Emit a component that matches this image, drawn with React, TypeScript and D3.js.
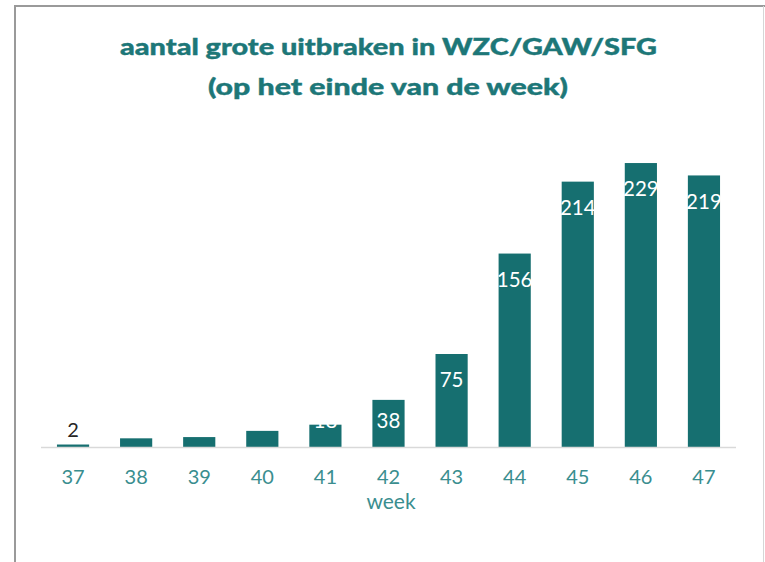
import React from "react";
import * as d3 from "d3";

const weeks = ["37", "38", "39", "40", "41", "42", "43", "44", "45", "46", "47"];
const outbreaks = [2, 7, 8, 13, 18, 38, 75, 156, 214, 229, 219];
const titleLines = ["aantal grote uitbraken in WZC/GAW/SFG", "(op het einde van de week)"];
const xAxisTitle = "week";

const W = 765;
const H = 562;
const BAR = "#166f70";
const TITLE = "#1d7778";
const TICK = "#3a8e8f";
const FONT = "Lato, 'Open Sans', sans-serif";

export default function App() {
  const x = d3.scaleBand<string>().domain(weeks).range([41.5, 735.5]).paddingInner(0.49).paddingOuter(0.245);
  const y = d3.scaleLinear().domain([0, 250]).range([447, 447 - 310]);
  const base = y(0);

  return (
    <svg width={W} height={H} style={{ position: "absolute", left: 0, top: 0, background: "#fff" }}>
      <rect x={0} y={0} width={W} height={H} fill="#fff" />
      {/* frame */}
      <line x1={15} y1={6} x2={W} y2={6} stroke="#9a9a9a" strokeWidth={2} />
      <line x1={15} y1={5} x2={15} y2={H} stroke="#9a9a9a" strokeWidth={2} />
      <line x1={763.5} y1={6} x2={763.5} y2={H} stroke="#d6d6d6" strokeWidth={1} />

      {/* title */}
      <text x={388.5} y={55} textAnchor="middle" fill={TITLE} fontFamily={FONT} fontWeight={900} fontSize={22.5}
        stroke={TITLE} strokeWidth={0.4}
        textLength={537} lengthAdjust="spacingAndGlyphs">{titleLines[0]}</text>
      <text x={388} y={95} textAnchor="middle" fill={TITLE} fontFamily={FONT} fontWeight={900} fontSize={22.5}
        stroke={TITLE} strokeWidth={0.4}
        textLength={360} lengthAdjust="spacingAndGlyphs">{titleLines[1]}</text>

      {/* bars */}
      {weeks.map((w, i) => {
        const v = outbreaks[i];
        const top = y(v);
        return (
          <rect key={w} x={x(w)} y={top} width={x.bandwidth()} height={base - top} fill={BAR} />
        );
      })}

      {/* axis line */}
      <line x1={41} x2={736} y1={base + 0.5} y2={base + 0.5} stroke="#d9d9d9" strokeWidth={1.5} />

      {/* value labels */}
      {weeks.map((w, i) => {
        const v = outbreaks[i];
        const top = y(v);
        const cx = (x(w) as number) + x.bandwidth() / 2;
        const h = base - top;
        if (h < 5) {
          return (
            <text key={"l" + w} x={cx} y={top - 15} dy="0.35em" textAnchor="middle" fill="#262626"
              fontFamily={FONT} fontSize={20}>{v}</text>
          );
        }
        const cy = Math.min(top + 26, base - 26);
        return (
          <text key={"l" + w} x={cx} y={cy} dy="0.35em" textAnchor="middle" fill="#ffffff"
            fontFamily={FONT} fontSize={20.5}>{v}</text>
        );
      })}

      {/* tick labels */}
      {weeks.map((w) => (
        <text key={"t" + w} x={(x(w) as number) + x.bandwidth() / 2} y={484} textAnchor="middle" fill={TICK}
          fontFamily={FONT} fontSize={20}>{w}</text>
      ))}
      <text x={391} y={509} textAnchor="middle" fill={TICK} fontFamily={FONT} fontSize={21}>{xAxisTitle}</text>
    </svg>
  );
}
